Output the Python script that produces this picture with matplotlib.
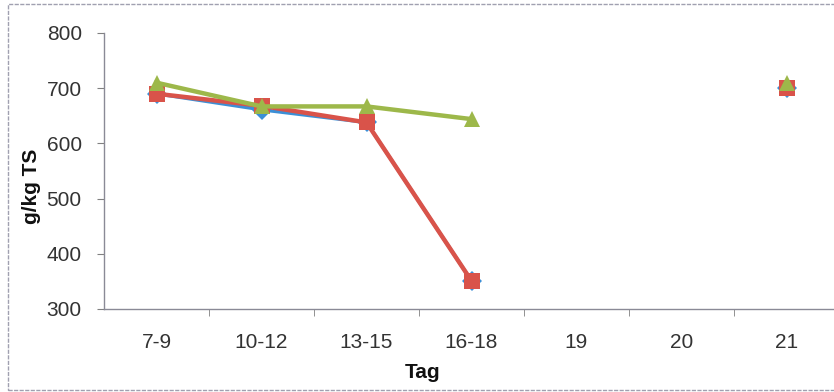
import numpy as np
import matplotlib
matplotlib.use("Agg")
import matplotlib.pyplot as plt
from matplotlib.patches import Rectangle

plt.rcParams['font.family'] = ['Liberation Sans', 'DejaVu Sans']

# Daten
tage = ["7-9", "10-12", "13-15", "16-18", "19", "20", "21"]
serie_blau = [690, 661, 638, 351, np.nan, np.nan, 701]
serie_rot = [690, 668, 638, 351, np.nan, np.nan, 701]
serie_gruen = [710, 667, 667, 644, np.nan, np.nan, 709]

W, H = 834, 392
fig = plt.figure(figsize=(W / 100, H / 100), dpi=100)

# Achsenbereich (Pixel -> Figurkoordinaten)
x0, x1 = 104, 839
y0, y1 = 33, 309
ax = fig.add_axes([x0 / W, 1 - y1 / H, (x1 - x0) / W, (y1 - y0) / H])

x = np.arange(len(tage))
ax.plot(x, serie_blau, color='#3C8FD6', lw=2.5, marker='D', ms=10, mew=0, zorder=3)
ax.plot(x, serie_rot, color='#D9534A', lw=3.2, marker='s', ms=12, mew=0, zorder=4)
ax.plot(x, serie_gruen, color='#9DB84A', lw=3.2, marker='^', ms=12, mew=0, zorder=5)

ax.set_xlim(-0.5, len(tage) - 0.5)
ax.set_ylim(300, 800)
ax.set_yticks(range(300, 801, 100))
ax.set_xticks(x)
ax.set_xticklabels(tage)
ax.set_xticks(np.arange(0.5, len(tage) - 0.5, 1), minor=True)
ax.tick_params(axis='x', which='major', length=0, pad=17, labelsize=15, colors='#333333')
ax.tick_params(axis='x', which='minor', length=5, color='#808080', direction='out')
ax.tick_params(axis='y', length=5, color='#808080', labelsize=15, pad=11, labelcolor='#333333')

for s in ['top', 'right']:
    ax.spines[s].set_visible(False)
for s in ['left', 'bottom']:
    ax.spines[s].set_color('#8a8a96')
    ax.spines[s].set_linewidth(1)

fig.text(32 / W, 1 - 186 / H, "g/kg TS", rotation=90, ha='center', va='center',
         fontsize=15, fontweight='bold', color='#111111')
fig.text(423 / W, 1 - 373 / H, "Tag", ha='center', va='center',
         fontsize=15, fontweight='bold', color='#111111')

# Rahmen um das Diagramm
fig.patches.append(Rectangle((8 / W, 1 - 390 / H), 840 / W, 386 / H,
                             transform=fig.transFigure, fill=False,
                             edgecolor='#a0a0b0', linewidth=1, linestyle=(0, (3, 1))))

fig.savefig("out.png", dpi=100)
